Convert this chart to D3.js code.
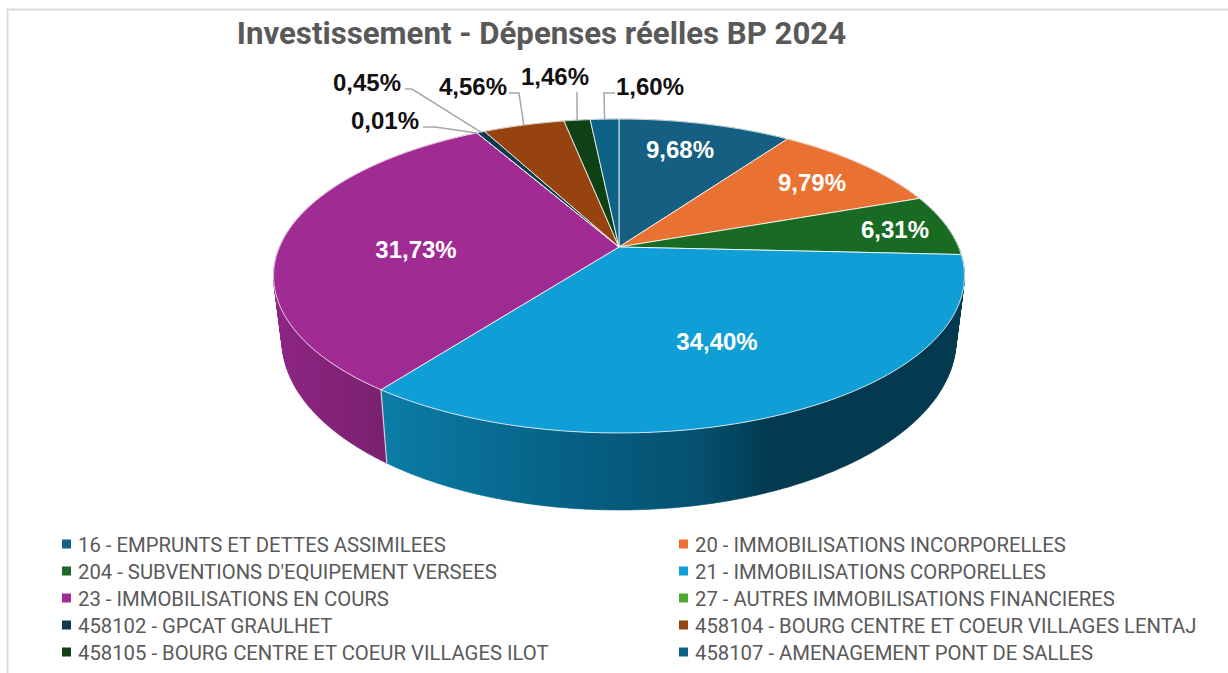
<!DOCTYPE html>
<html lang="fr">
<head>
<meta charset="utf-8">
<title>Investissement - Dépenses réelles BP 2024</title>
<script src="https://cdn.jsdelivr.net/npm/d3@7/dist/d3.min.js"></script>
<style>
  html, body { margin: 0; padding: 0; background: #fff; }
  svg { display: block; }
  text { font-family: Roboto, "Noto Sans", sans-serif; }
  .value { font-family: "Liberation Sans", Arial, sans-serif; font-weight: 700; font-size: 24px; text-anchor: middle; }
</style>
</head>
<body>
<svg id="chart" width="1228" height="673"></svg>
<script>
// Budget chapters and their share of real investment spending (%)
const chapters = [
  "16 - EMPRUNTS ET DETTES ASSIMILEES",
  "20 - IMMOBILISATIONS INCORPORELLES",
  "204 - SUBVENTIONS D'EQUIPEMENT VERSEES",
  "21 - IMMOBILISATIONS CORPORELLES",
  "23 - IMMOBILISATIONS EN COURS",
  "27 - AUTRES IMMOBILISATIONS FINANCIERES",
  "458102 - GPCAT GRAULHET",
  "458104 - BOURG CENTRE ET COEUR VILLAGES LENTAJ",
  "458105 - BOURG CENTRE ET COEUR VILLAGES ILOT",
  "458107 - AMENAGEMENT PONT DE SALLES"
];
const shares = [9.68, 9.79, 6.31, 34.40, 31.73, 0.01, 0.45, 4.56, 1.46, 1.60];
const sliceColors = ["#156082", "#E97132", "#196B24", "#0F9ED5", "#A02B93",
                     "#4EA72E", "#0D3A4E", "#96430F", "#0F4016", "#0E6285"];
const chartTitle = "Investissement - Dépenses réelles BP 2024";

// Label placement: [label centre x, label centre y, and for outside labels the elbow of the leader]
const labelSpots = [
  { x: 680, y: 150 }, { x: 812, y: 183 }, { x: 895, y: 230 }, { x: 717, y: 342 }, { x: 416, y: 250 },
  { x: 385, y: 121, line: [[423, 127], [435, 127]] },
  { x: 367, y: 83,  line: [[405, 89], [412, 89]] },
  { x: 473, y: 87,  line: [[509, 93], [519, 93]] },
  { x: 555, y: 77,  line: [[577, 92]] },
  { x: 650, y: 87,  line: [[615, 93], [604, 93]] }
];

const svg = d3.select("#chart");
const fmt = v => v.toFixed(2).replace(".", ",") + "%";

// Perspective projection of a flat disc: the near edge is drawn larger than the far edge
const tilt = 0.1847;
const topFace = { cx: 619, cy: 247, rx: 339.5, ry: 151.6 };
const baseFace = { cx: 619, cy: 308.6, rx: 331.2, ry: 164.2 };
const project = (face, angle, r = 1) => {
  const u = r * Math.sin(angle), v = -r * Math.cos(angle), w = 1 - tilt * v;
  return [face.cx + face.rx * u / w, face.cy + face.ry * v / w];
};
const rim = (face, a0, a1) => {
  const n = Math.max(2, Math.ceil((a1 - a0) / 0.01));
  return d3.range(n + 1).map(i => project(face, a0 + (a1 - a0) * i / n));
};

const slices = d3.pie().sort(null).value(d => d)(shares);
const line = d3.line();

// Chart frame
svg.append("path").attr("d", "M7.5,673V9.5H1228")
  .attr("fill", "none").attr("stroke", "#dcdcdc").attr("stroke-width", 2);

// Title
svg.append("text").attr("x", 541.5).attr("y", 44).attr("text-anchor", "middle")
  .attr("font-size", 31.2).attr("font-weight", 700).attr("fill", "#595959").text(chartTitle);

// Side wall shading, lit from the left
const defs = svg.append("defs");
const wallStops = {
  3: [[387, "#0B7CA6"], [530, "#07668C"], [700, "#05506F"], [770, "#033A50"], [965, "#033A50"]],
  4: [[273, "#8E2583"], [330, "#84237A"], [387, "#7A206E"]]
};
Object.entries(wallStops).forEach(([i, stops]) => {
  const g = defs.append("linearGradient").attr("id", "wall" + i)
    .attr("gradientUnits", "userSpaceOnUse")
    .attr("x1", stops[0][0]).attr("x2", stops[stops.length - 1][0]).attr("y1", 0).attr("y2", 0);
  const span = stops[stops.length - 1][0] - stops[0][0];
  stops.forEach(s => g.append("stop")
    .attr("offset", (s[0] - stops[0][0]) / span).attr("stop-color", s[1]));
});

// Walls: a band of small quads between the upper and lower rim of each slice,
// merged into one path so the outline follows the silhouette of the solid
const walls = svg.append("g");
slices.forEach((s, i) => {
  const up = rim(topFace, s.startAngle, s.endAngle);
  const down = rim(baseFace, s.startAngle, s.endAngle);
  const quads = d3.range(up.length - 1)
    .map(k => line([up[k], up[k + 1], down[k + 1], down[k]]) + "Z").join("");
  const fill = wallStops[i] ? `url(#wall${i})` : d3.color(sliceColors[i]).darker(1.2);
  walls.append("path").attr("d", quads).attr("fill", fill)
    .attr("stroke", fill).attr("stroke-width", 0.6);
});
// Edge where the two visible walls meet
const seam = slices[3].endAngle;
walls.append("path").attr("d", line([project(topFace, seam), project(baseFace, seam)]))
  .attr("stroke", "#fff").attr("stroke-opacity", 0.75).attr("stroke-width", 1.2);

// Top face
svg.append("g").selectAll("path").data(slices).join("path")
  .attr("d", s => line([project(topFace, 0, 0)].concat(rim(topFace, s.startAngle, s.endAngle))) + "Z")
  .attr("fill", (s, i) => sliceColors[i])
  .attr("stroke", "#fff").attr("stroke-opacity", 0.8).attr("stroke-width", 1)
  .attr("stroke-linejoin", "round");

// Leader lines run from each outside label to the middle of its slice on the rim
svg.append("g").selectAll("path")
  .data(slices.map((s, i) => ({ s, spot: labelSpots[i] })).filter(d => d.spot.line))
  .join("path")
  .attr("d", d => line(d.spot.line.concat([project(topFace, (d.s.startAngle + d.s.endAngle) / 2)])))
  .attr("fill", "none").attr("stroke", "#a6a6a6").attr("stroke-width", 1.5);

// Value labels
svg.append("g").selectAll("text").data(shares).join("text")
  .attr("class", "value")
  .attr("x", (d, i) => labelSpots[i].x)
  .attr("y", (d, i) => labelSpots[i].y)
  .attr("dy", "0.32em")
  .attr("fill", (d, i) => labelSpots[i].line ? "#111" : "#fff")
  .text(fmt);

// Legend: two columns, filled row by row
const rowY = d3.scalePoint().domain(d3.range(5)).range([544, 652]);
const colX = d3.scalePoint().domain([0, 1]).range([62, 679]);
const legend = svg.append("g").selectAll("g").data(chapters).join("g")
  .attr("transform", (d, i) => `translate(${colX(i % 2)},${rowY(Math.floor(i / 2))})`);
legend.append("rect").attr("x", 0).attr("y", -4.5).attr("width", 9).attr("height", 9)
  .attr("fill", (d, i) => sliceColors[i]);
legend.append("text").attr("x", 16).attr("y", 7.5)
  .attr("font-size", 20.3).attr("fill", "#595959").text(d => d);
</script>
</body>
</html>
